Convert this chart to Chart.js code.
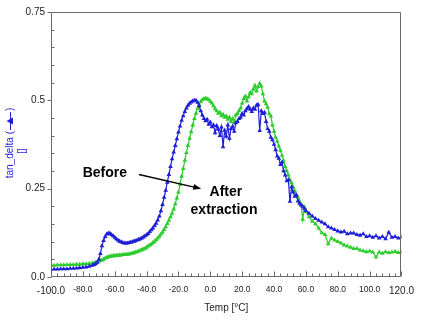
<!DOCTYPE html>
<html>
<head>
<meta charset="utf-8">
<script src="https://cdn.jsdelivr.net/npm/chart.js@4.4.1/dist/chart.umd.min.js"></script>
<style>
  html, body { margin: 0; padding: 0; background: #fff; }
  canvas { display: block; }
</style>
</head>
<body>
<canvas id="c" width="422" height="323"></canvas>
<script>
// Temperature sweep [°C]
const temps = [
  -100, -98, -96, -94, -92, -90, -88, -86, -84, -82,
  -80, -78, -76, -74, -73, -72, -71, -70, -69, -68,
  -67, -66, -65, -64, -63, -62, -61, -60, -59, -58,
  -57, -56, -55, -54, -53, -52, -51, -50, -49, -48,
  -47, -46, -45, -44, -43, -42, -41, -40, -39, -38,
  -37, -36, -35, -34, -33, -32, -31, -30, -29, -28,
  -27, -26, -25, -24, -23, -22, -21, -20, -19, -18,
  -17, -16, -15, -14, -13, -12, -11, -10, -9, -8,
  -7, -6, -5, -4, -3, -2, -1, 0, 1, 2,
  3, 4, 5, 6, 7, 8, 9, 10, 11, 12,
  13, 14, 15, 16, 17, 18, 19, 20, 21, 22,
  23, 24, 25, 26, 27, 28, 29, 30, 31, 32,
  33, 34, 35, 36, 37, 38, 39, 40, 41, 42,
  43, 44, 45, 46, 47, 48, 49, 50, 51, 52,
  53, 54, 55, 56, 57, 58, 59, 60, 62, 64,
  66, 68, 70, 72, 74, 76, 78, 80, 82, 84,
  86, 88, 90, 92, 94, 96, 98, 100, 102, 104,
  106, 108, 110, 112, 114, 116, 118, 120
];

// tan delta before extraction
const tanDeltaBefore = [
  0.022, 0.022, 0.022, 0.023, 0.023, 0.023, 0.024, 0.024, 0.025, 0.026,
  0.027, 0.028, 0.030, 0.033, 0.035, 0.037, 0.041, 0.050, 0.066, 0.088,
  0.103, 0.114, 0.121, 0.124, 0.123, 0.120, 0.116, 0.112, 0.108, 0.104,
  0.101, 0.099, 0.097, 0.096, 0.096, 0.096, 0.097, 0.098, 0.099, 0.101,
  0.102, 0.104, 0.106, 0.108, 0.110, 0.113, 0.116, 0.119, 0.123, 0.128,
  0.133, 0.138, 0.145, 0.152, 0.161, 0.172, 0.187, 0.205, 0.225, 0.245,
  0.268, 0.290, 0.312, 0.334, 0.353, 0.372, 0.391, 0.410, 0.427, 0.443,
  0.456, 0.468, 0.478, 0.486, 0.491, 0.495, 0.498, 0.500, 0.500, 0.494,
  0.484, 0.470, 0.458, 0.448, 0.442, 0.446, 0.432, 0.438, 0.425, 0.430,
  0.408, 0.428, 0.418, 0.400, 0.424, 0.368, 0.415, 0.398, 0.430, 0.392,
  0.420, 0.426, 0.412, 0.436, 0.440, 0.448, 0.452, 0.462, 0.458, 0.470,
  0.476, 0.482, 0.475, 0.468, 0.478, 0.474, 0.486, 0.488, 0.414, 0.470,
  0.462, 0.466, 0.440, 0.420, 0.412, 0.395, 0.388, 0.375, 0.360, 0.342,
  0.336, 0.318, 0.325, 0.300, 0.288, 0.272, 0.275, 0.214, 0.255, 0.240,
  0.228, 0.232, 0.215, 0.208, 0.203, 0.200, 0.194, 0.188, 0.180, 0.172,
  0.165, 0.160, 0.155, 0.150, 0.142, 0.138, 0.134, 0.130, 0.127, 0.129,
  0.122, 0.124, 0.124, 0.120, 0.118, 0.122, 0.114, 0.116, 0.112, 0.116,
  0.110, 0.114, 0.108, 0.126, 0.112, 0.114, 0.110, 0.112
];

// tan delta after extraction
const tanDeltaAfter = [
  0.033, 0.033, 0.034, 0.034, 0.034, 0.035, 0.035, 0.035, 0.036, 0.036,
  0.037, 0.037, 0.038, 0.039, 0.040, 0.041, 0.042, 0.044, 0.046, 0.048,
  0.050, 0.053, 0.055, 0.057, 0.058, 0.059, 0.060, 0.060, 0.061, 0.061,
  0.062, 0.062, 0.063, 0.063, 0.064, 0.064, 0.065, 0.066, 0.067, 0.068,
  0.070, 0.071, 0.073, 0.075, 0.077, 0.079, 0.081, 0.084, 0.087, 0.090,
  0.093, 0.097, 0.101, 0.105, 0.110, 0.115, 0.121, 0.127, 0.134, 0.142,
  0.151, 0.160, 0.170, 0.180, 0.192, 0.207, 0.223, 0.240, 0.262, 0.285,
  0.307, 0.330, 0.352, 0.372, 0.392, 0.411, 0.430, 0.448, 0.463, 0.477,
  0.488, 0.496, 0.501, 0.504, 0.506, 0.504, 0.502, 0.497, 0.492, 0.484,
  0.476, 0.470, 0.463, 0.466, 0.456, 0.460, 0.452, 0.455, 0.446, 0.452,
  0.440, 0.448, 0.436, 0.458, 0.462, 0.470, 0.478, 0.492, 0.505, 0.512,
  0.498, 0.510, 0.522, 0.518, 0.532, 0.542, 0.526, 0.538, 0.548, 0.540,
  0.518, 0.498, 0.490, 0.480, 0.462, 0.455, 0.430, 0.412, 0.396, 0.384,
  0.370, 0.358, 0.344, 0.330, 0.312, 0.300, 0.288, 0.275, 0.266, 0.255,
  0.244, 0.232, 0.226, 0.215, 0.205, 0.163, 0.198, 0.185, 0.170, 0.158,
  0.150, 0.138, 0.125, 0.120, 0.094, 0.110, 0.104, 0.100, 0.096, 0.090,
  0.087, 0.084, 0.080, 0.081, 0.076, 0.074, 0.071, 0.073, 0.070, 0.056,
  0.070, 0.067, 0.071, 0.069, 0.070, 0.072, 0.069, 0.070
];

// Axis ticks
const xTicks = [-100, -80, -60, -40, -20, 0, 20, 40, 60, 80, 100, 120];
const yTicks = [0, 0.25, 0.5, 0.75];
const yTickLabels = ['0.0', '0.25', '0.5', '0.75'];

const FONT = 'Liberation Sans, Arial, sans-serif';
const BLUE = '#1e1ed8';
const GREEN = '#2ccc2c';
const AXIS = '#6a6a6a';
const TEXT = '#222';

function series(values) {
  return temps.map((t, i) => ({ x: t, y: values[i] }));
}

// Box, inward minor ticks and major ticks
const framePlugin = {
  id: 'frame',
  afterDatasetsDraw(chart) {
    const { ctx, chartArea: a, scales: { x, y } } = chart;
    const L = Math.round(a.left) + 0.5, R = Math.round(a.right) - 0.5;
    const T = Math.round(a.top) + 0.5, B = Math.round(a.bottom) - 0.5;
    ctx.save();
    ctx.strokeStyle = AXIS;
    ctx.lineWidth = 1;
    ctx.beginPath();
    ctx.moveTo(L, T); ctx.lineTo(R, T); ctx.lineTo(R, B); ctx.lineTo(L, B); ctx.closePath();
    ctx.stroke();
    ctx.beginPath();
    // x axis: minor every 4 °C, major every 20 °C
    for (let v = x.min; v <= x.max + 1e-9; v += 4) {
      const px = Math.round(x.getPixelForValue(v)) + 0.5;
      const major = xTicks.includes(Math.round(v));
      ctx.moveTo(px, B);
      ctx.lineTo(px, B - (major ? 5 : 3));
    }
    // y axis: minor every 0.05, major every 0.25 (outward)
    for (let k = 0; k <= 15; k++) {
      const v = k * 0.05;
      const py = Math.round(y.getPixelForValue(v)) + 0.5;
      if (k % 5 === 0) {
        ctx.moveTo(L, py); ctx.lineTo(L - 4, py);
      } else {
        ctx.moveTo(L, py); ctx.lineTo(L + 3, py);
      }
    }
    ctx.stroke();
    ctx.restore();
  }
};

// Axis titles and the in-plot notes
const textPlugin = {
  id: 'texts',
  afterDraw(chart) {
    const { ctx, chartArea: a, scales: { x, y } } = chart;
    ctx.save();

    // x title
    ctx.fillStyle = TEXT;
    ctx.font = '10px ' + FONT;
    ctx.textAlign = 'center';
    ctx.textBaseline = 'middle';
    ctx.fillText('Temp [°C]', (a.left + a.right) / 2, 308);

    // y title with its line/triangle key
    ctx.save();
    ctx.translate(10, 143);
    ctx.rotate(-Math.PI / 2);
    ctx.fillStyle = BLUE;
    ctx.strokeStyle = BLUE;
    ctx.font = '10px ' + FONT;
    ctx.textBaseline = 'middle';
    ctx.textAlign = 'left';
    const t1 = 'tan_delta (';
    const t2 = ')';
    const keyW = 20;
    const w1 = ctx.measureText(t1).width, w2 = ctx.measureText(t2).width;
    let sx = -(w1 + keyW + w2) / 2;
    ctx.fillText(t1, sx, 0);
    sx += w1;
    ctx.lineWidth = 1;
    ctx.beginPath();
    ctx.moveTo(sx + 1, 0.5); ctx.lineTo(sx + keyW - 1, 0.5);
    ctx.stroke();
    const cx = sx + keyW / 2;
    ctx.beginPath();
    ctx.moveTo(cx, -3.5); ctx.lineTo(cx + 3.5, 3); ctx.lineTo(cx - 3.5, 3); ctx.closePath();
    ctx.fill();
    sx += keyW;
    ctx.fillText(t2, sx, 0);
    ctx.restore();

    ctx.save();
    ctx.translate(22, 151);
    ctx.rotate(-Math.PI / 2);
    ctx.fillStyle = BLUE;
    ctx.font = '10px ' + FONT;
    ctx.textAlign = 'center';
    ctx.textBaseline = 'middle';
    ctx.fillText('[]', 0, 0);
    ctx.restore();

    // notes
    ctx.fillStyle = '#000';
    ctx.font = 'bold 14px ' + FONT;
    ctx.textAlign = 'center';
    ctx.textBaseline = 'middle';
    const P = (tx, ty) => [x.getPixelForValue(tx), y.getPixelForValue(ty)];
    let [bx, by] = P(-66.2, 0.294);
    ctx.fillText('Before', bx, by);
    let [ax, ay] = P(9.8, 0.239);
    ctx.fillText('After', ax, ay);
    let [ex, ey] = P(8.6, 0.189);
    ctx.fillText('extraction', ex, ey);

    // arrow
    const [x0, y0] = P(-44.8, 0.290);
    const [x1, y1] = P(-5.7, 0.250);
    const ang = Math.atan2(y1 - y0, x1 - x0);
    ctx.strokeStyle = '#000';
    ctx.lineWidth = 1.4;
    ctx.beginPath();
    ctx.moveTo(x0, y0);
    ctx.lineTo(x1 - 5 * Math.cos(ang), y1 - 5 * Math.sin(ang));
    ctx.stroke();
    ctx.beginPath();
    ctx.moveTo(x1, y1);
    ctx.lineTo(x1 - 8 * Math.cos(ang) + 3 * Math.sin(ang), y1 - 8 * Math.sin(ang) - 3 * Math.cos(ang));
    ctx.lineTo(x1 - 8 * Math.cos(ang) - 3 * Math.sin(ang), y1 - 8 * Math.sin(ang) + 3 * Math.cos(ang));
    ctx.closePath();
    ctx.fillStyle = '#000';
    ctx.fill();

    ctx.restore();
  }
};

new Chart(document.getElementById('c'), {
  type: 'line',
  data: {
    datasets: [
      {
        label: 'Before',
        data: series(tanDeltaBefore),
        borderColor: BLUE,
        backgroundColor: BLUE,
        borderWidth: 1.2,
        pointStyle: 'triangle',
        pointRadius: 2.7,
        pointBorderWidth: 0,
        tension: 0
      },
      {
        label: 'After extraction',
        data: series(tanDeltaAfter),
        borderColor: GREEN,
        backgroundColor: GREEN,
        borderWidth: 1.2,
        pointStyle: 'triangle',
        pointRadius: 2.7,
        pointBorderWidth: 0,
        tension: 0
      }
    ]
  },
  options: {
    responsive: false,
    animation: false,
    devicePixelRatio: 1,
    layout: { padding: { top: 7, right: 16.5, left: 0, bottom: 0 } },
    plugins: { legend: { display: false }, tooltip: { enabled: false } },
    scales: {
      x: {
        type: 'linear',
        min: -100,
        max: 120,
        afterFit(s) { s.height = 46; },
        grid: { display: false, drawTicks: false },
        border: { display: false },
        afterBuildTicks(s) { s.ticks = xTicks.map(v => ({ value: v })); },
        ticks: {
          autoSkip: false,
          maxRotation: 0,
          padding: 8,
          color: TEXT,
          font: (c) => {
            const v = c.tick ? c.tick.value : 0;
            return { family: FONT, size: (v === -100 || v === 120) ? 10 : 8.5 };
          },
          callback: (v) => Number(v).toFixed(1)
        }
      },
      y: {
        min: 0,
        max: 0.75,
        afterFit(s) { s.width = 51; },
        grid: { display: false, drawTicks: false },
        border: { display: false },
        afterBuildTicks(s) { s.ticks = yTicks.map(v => ({ value: v })); },
        ticks: {
          padding: 6,
          color: TEXT,
          font: { family: FONT, size: 10 },
          callback: (v) => {
            const i = yTicks.findIndex(t => Math.abs(t - v) < 1e-9);
            return i >= 0 ? yTickLabels[i] : '';
          }
        }
      }
    }
  },
  plugins: [framePlugin, textPlugin]
});
</script>
</body>
</html>
